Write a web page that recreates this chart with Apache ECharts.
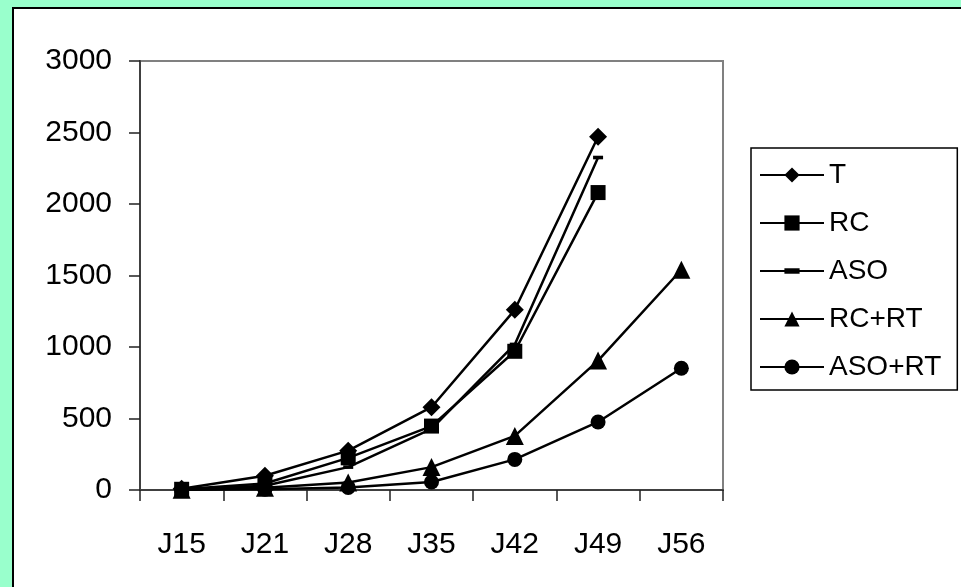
<!DOCTYPE html>
<html>
<head>
<meta charset="utf-8">
<script src="https://cdn.jsdelivr.net/npm/echarts@6/dist/echarts.min.js"></script>
<style>
  html, body { margin: 0; padding: 0; background: #99FFCC; }
  #chart { width: 961px; height: 587px; }
</style>
</head>
<body>
<div id="chart"></div>
<script>
// Sampling days
const categories = ['J15', 'J21', 'J28', 'J35', 'J42', 'J49', 'J56'];

// Series values per day (null = not measured)
const seriesNames = ['T', 'RC', 'ASO', 'RC+RT', 'ASO+RT'];
const valuesT     = [8, 100, 275, 579, 1260, 2470, null];
const valuesRC    = [5, 45, 225, 447, 970, 2080, null];
const valuesASO   = [3, 30, 160, 428, 1018, 2325, null];
const valuesRCRT  = [2, 15, 52, 160, 378, 905, 1540];
const valuesASORT = [1, 5, 18, 56, 214, 476, 851];

// Y axis ticks
const yMin = 0, yMax = 3000, yStep = 500;

// Dash marker: a flat bar inside a square box so it keeps its shape
const dashSymbol = 'path://M0,0M10,10M0,3.2h10v3.6h-10z';

const symbols = ['diamond', 'rect', dashSymbol, 'triangle', 'circle'];
const sizes = [18, 15, 10, 18, 15];
const dataSets = [valuesT, valuesRC, valuesASO, valuesRCRT, valuesASORT];

const chart = echarts.init(document.getElementById('chart'), null, { renderer: 'canvas' });

const fontFamily = '"Liberation Sans", Arial, sans-serif';

chart.setOption({
  backgroundColor: 'transparent',
  animation: false,
  graphic: [{
    type: 'rect',
    z: -10,
    shape: { x: 13, y: 8, width: 1000, height: 640 },
    style: { fill: '#ffffff', stroke: '#000000', lineWidth: 2 }
  }],
  grid: {
    left: 140, right: 238, top: 61, bottom: 97,
    show: true, borderColor: '#808080', borderWidth: 2, backgroundColor: '#ffffff'
  },
  legend: {
    orient: 'vertical',
    left: 751, top: 148,
    padding: [13, 16, 9, 8],
    borderColor: '#000000', borderWidth: 1.5,
    itemWidth: 64, itemHeight: 19, itemGap: 20,
    icon: 'inherit',
    textStyle: { fontFamily: fontFamily, fontSize: 28, color: '#000' },
    data: seriesNames
  },
  xAxis: {
    type: 'category',
    data: categories,
    boundaryGap: true,
    axisLine: { lineStyle: { color: '#404040', width: 2 } },
    axisTick: { show: true, length: 11, lineStyle: { color: '#222', width: 1.5 } },
    axisLabel: { fontFamily: fontFamily, fontSize: 30, color: '#000', margin: 40 }
  },
  yAxis: {
    type: 'value',
    min: yMin, max: yMax, interval: yStep,
    axisLine: { show: true, lineStyle: { color: '#404040', width: 2 } },
    axisTick: { show: true, length: 11, lineStyle: { color: '#222', width: 1.5 } },
    axisLabel: {
      fontFamily: fontFamily, fontSize: 30, color: '#000', margin: 28,
      formatter: (v) => String(v)
    },
    splitLine: { show: false }
  },
  series: seriesNames.map((name, i) => ({
    name: name,
    type: 'line',
    data: dataSets[i],
    symbol: symbols[i],
    symbolSize: sizes[i],
    showAllSymbol: true,
    connectNulls: false,
    clip: false,
    lineStyle: { color: '#000', width: 2.5 },
    itemStyle: { color: '#000', borderWidth: 0 },
    z: 10 - i
  }))
});
</script>
</body>
</html>
